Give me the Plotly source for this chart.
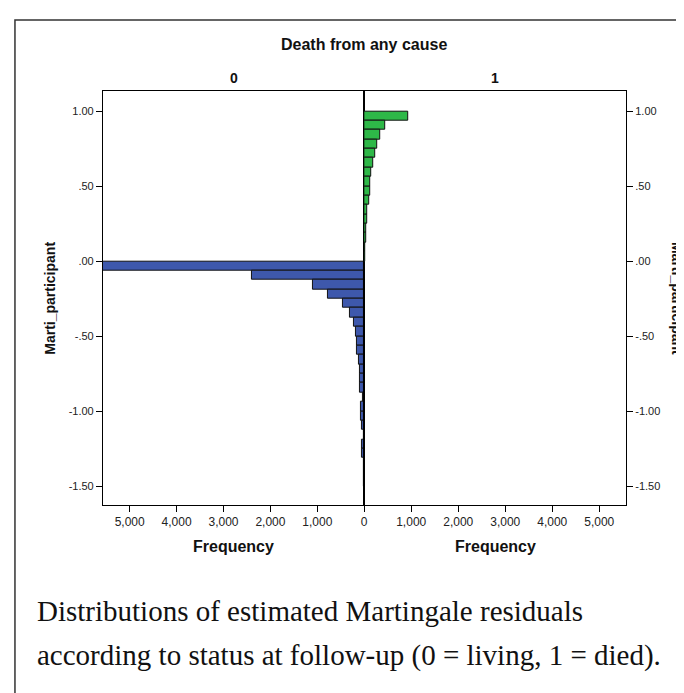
import plotly.graph_objects as go

# ---------------- data ----------------
bin_width = 0.0625
# bin centres for status 0 (living), from 0 down to -1.5
living_bins = [-0.03125, -0.09375, -0.15625, -0.21875, -0.28125, -0.34375, -0.40625, -0.46875,
               -0.53125, -0.59375, -0.65625, -0.71875, -0.78125, -0.84375, -0.90625, -0.96875,
               -1.03125, -1.09375, -1.15625, -1.21875, -1.28125, -1.34375, -1.40625, -1.46875]
living_counts = [5570, 2394, 1095, 769, 460, 297, 227, 176,
                 163, 155, 120, 99, 92, 85, 20, 60,
                 65, 55, 15, 45, 50, 10, 8, 12]
# bin centres for status 1 (died), from 1.0 down
died_bins = [0.96875, 0.90625, 0.84375, 0.78125, 0.71875, 0.65625, 0.59375, 0.53125,
             0.46875, 0.40625, 0.34375, 0.28125, 0.21875, 0.15625, 0.09375, 0.03125,
             -0.03125, -0.09375]
died_counts = [926, 452, 340, 282, 226, 198, 148, 127,
               120, 99, 71, 57, 42, 35, 21, 14,
               10, 5]

y_ticks = [1.0, 0.5, 0.0, -0.5, -1.0, -1.5]
y_tick_text = ["1.00", ".50", ".00", "-.50", "-1.00", "-1.50"]
x_ticks_left = [5000, 4000, 3000, 2000, 1000, 0]
x_ticks_left_text = ["5,000", "4,000", "3,000", "2,000", "1,000", "0"]
x_ticks_right = [1000, 2000, 3000, 4000, 5000]
x_ticks_right_text = ["1,000", "2,000", "3,000", "4,000", "5,000"]

# ---------------- layout helpers ----------------
W, H = 684, 693
def px(x):
    return x / W
def py(y):
    return 1 - y / H

x_left, x_mid, x_right = 95.5, 358.3, 621.7
y_top, y_bot = 82.7, 497.0
x_max = 5570
y_range = [-1.625, 1.137]

SANS = "Liberation Sans, Arial, sans-serif"
SERIF = "Liberation Serif, Times New Roman, serif"
BLUE = "#3E58AC"
GREEN = "#2EB848"

fig = go.Figure()
fig.add_trace(go.Bar(orientation="h", y=living_bins, x=living_counts, width=bin_width,
                     marker=dict(color=BLUE, line=dict(color="#111111", width=1)),
                     xaxis="x", yaxis="y", showlegend=False, hoverinfo="x+y"))
fig.add_trace(go.Bar(orientation="h", y=died_bins, x=died_counts, width=bin_width,
                     marker=dict(color=GREEN, line=dict(color="#111111", width=1)),
                     xaxis="x2", yaxis="y2", showlegend=False, hoverinfo="x+y"))

axis_common = dict(showline=True, linecolor="black", linewidth=1, mirror=True,
                   showgrid=False, zeroline=False, ticks="outside", ticklen=6,
                   tickcolor="black", tickwidth=1)
xfont = dict(family=SANS, size=12, color="#222222")
yfont = dict(family=SANS, size=11, color="#222222")

fig.update_layout(
    width=W, height=H,
    margin=dict(l=0, r=0, t=0, b=0),
    paper_bgcolor="white", plot_bgcolor="white",
    bargap=0,
    xaxis=dict(domain=[px(x_left), px(x_mid)], range=[x_max, 0], anchor="y",
               tickvals=x_ticks_left, ticktext=x_ticks_left_text, tickfont=xfont, **axis_common),
    yaxis=dict(domain=[py(y_bot), py(y_top)], range=y_range, anchor="x",
               tickvals=y_ticks, ticktext=y_tick_text, tickfont=yfont, **axis_common),
    xaxis2=dict(domain=[px(x_mid), px(x_right)], range=[0, x_max], anchor="y2",
                tickvals=x_ticks_right, ticktext=x_ticks_right_text, tickfont=xfont, **axis_common),
    yaxis2=dict(domain=[py(y_bot), py(y_top)], range=y_range, anchor="x2", side="right",
                tickvals=y_ticks, ticktext=y_tick_text, tickfont=yfont, **axis_common),
)

ann = []
def label(text, x, y, size, bold=True, angle=0, family=SANS, xanchor="center", yanchor="middle"):
    ann.append(dict(text=("<b>%s</b>" % text) if bold else text, x=px(x), y=py(y),
                    xref="paper", yref="paper", showarrow=False, textangle=angle,
                    xanchor=xanchor, yanchor=yanchor,
                    font=dict(family=family, size=size, color="#111111")))

label("Death from any cause", x_mid, 36, 16)
label("0", (x_left + x_mid) / 2, 69.5, 14)
label("1", (x_mid + x_right) / 2, 69.5, 14)
label("Frequency", (x_left + x_mid) / 2, 538, 16)
label("Frequency", (x_mid + x_right) / 2, 538, 16)
label("Marti_participant", 42, 290, 14, angle=-90)
label("Marti_participant", 673, 290, 14, angle=90)
label("Distributions of estimated Martingale residuals", 27, 603, 29, bold=False,
      family=SERIF, xanchor="left")
label("according to status at follow-up (0 = living, 1 = died).", 27, 647, 29, bold=False,
      family=SERIF, xanchor="left")
fig.update_layout(annotations=ann)

fig.add_shape(type="rect", xref="paper", yref="paper",
              x0=px(7), x1=1.2, y0=-0.2, y1=py(12),
              line=dict(color="#333333", width=1.5), fillcolor="rgba(0,0,0,0)", layer="below")

fig.write_html("out.html")
